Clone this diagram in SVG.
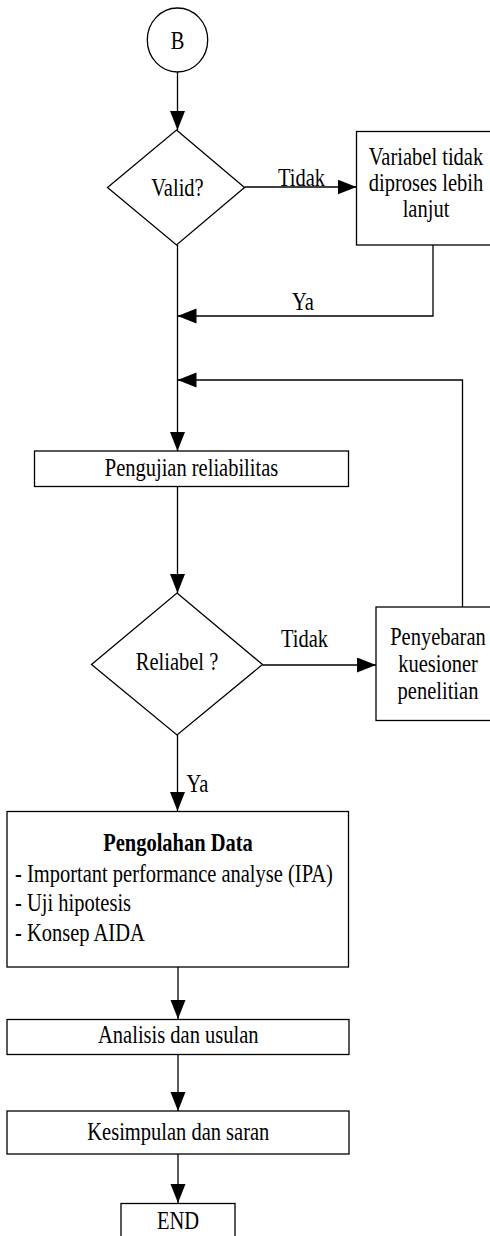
<svg xmlns="http://www.w3.org/2000/svg" width="490" height="1236" viewBox="0 0 490 1236">
<style>
.s{fill:#fff;stroke:#000;stroke-width:1.3}
.c{fill:none;stroke:#000;stroke-width:1.3}
text{font-family:"Liberation Serif","Times New Roman",serif;font-size:20.5px;fill:#000}
.m{text-anchor:middle}
.b{font-weight:bold}
</style>
<defs>
<marker id="ah" markerUnits="userSpaceOnUse" markerWidth="20" markerHeight="16" refX="19" refY="7.5" orient="auto">
<path d="M0,0 L19,7.5 L0,15 z" fill="#000"/>
</marker>
</defs>
<rect width="490" height="1236" fill="#fff"/>
<g id="connectors">
<line class="c" x1="177.5" y1="72" x2="177.5" y2="130" marker-end="url(#ah)"/>
<line class="c" x1="244.5" y1="187" x2="356.5" y2="187" marker-end="url(#ah)"/>
<polyline class="c" points="433,245 433,316 177.5,316" marker-end="url(#ah)"/>
<polyline class="c" points="462.5,607 462.5,380 177.5,380" marker-end="url(#ah)"/>
<line class="c" x1="177.5" y1="245" x2="177.5" y2="451" marker-end="url(#ah)"/>
<line class="c" x1="177.5" y1="487" x2="177.5" y2="593" marker-end="url(#ah)"/>
<line class="c" x1="262.5" y1="665" x2="376" y2="665" marker-end="url(#ah)"/>
<line class="c" x1="177.5" y1="735" x2="177.5" y2="811" marker-end="url(#ah)"/>
<line class="c" x1="178" y1="967" x2="178" y2="1019" marker-end="url(#ah)"/>
<line class="c" x1="178" y1="1054" x2="178" y2="1111" marker-end="url(#ah)"/>
<line class="c" x1="178" y1="1154" x2="178" y2="1203" marker-end="url(#ah)"/>
<text class="m" transform="translate(301.5,186) scale(1,1.2)">Tidak</text>
<text class="m" transform="translate(303,310) scale(1,1.2)">Ya</text>
<text class="m" transform="translate(304.5,646.5) scale(1,1.2)">Tidak</text>
<text transform="translate(186.5,791.5) scale(1,1.2)">Ya</text>
</g>
<g id="start">
<ellipse class="s" cx="177.5" cy="40" rx="30.2" ry="32"/>
<text class="m" transform="translate(177.5,48.5) scale(1,1.2)">B</text>
</g>
<g id="valid">
<polygon class="s" points="176.5,130 244.5,187.5 176.5,245 107.5,187.5"/>
<text class="m" transform="translate(177.5,196) scale(1,1.2)">Valid?</text>
</g>
<g id="variabel">
<rect class="s" x="356.5" y="131.5" width="140" height="113.5"/>
<text class="m" transform="translate(426,165) scale(1,1.2)">Variabel tidak</text>
<text class="m" transform="translate(426,191) scale(1,1.2)">diproses lebih</text>
<text class="m" transform="translate(426,217) scale(1,1.2)">lanjut</text>
</g>
<g id="pengujian">
<rect class="s" x="34.5" y="451" width="314" height="35.5"/>
<text class="m" transform="translate(191.5,475.5) scale(1,1.2)">Pengujian reliabilitas</text>
</g>
<g id="reliabel">
<polygon class="s" points="177,593 262.5,664.5 177,735 91.5,664.5"/>
<text class="m" transform="translate(177,670) scale(1,1.2)">Reliabel ?</text>
</g>
<g id="penyebaran">
<rect class="s" x="376" y="607" width="120" height="113.5"/>
<text class="m" transform="translate(438,645) scale(1,1.2)">Penyebaran</text>
<text class="m" transform="translate(438,672) scale(1,1.2)">kuesioner</text>
<text class="m" transform="translate(438,699) scale(1,1.2)">penelitian</text>
</g>
<g id="pengolahan">
<rect class="s" x="7" y="811.5" width="341.5" height="155.5"/>
<text class="m b" transform="translate(178,850.5) scale(1,1.2)">Pengolahan Data</text>
<text transform="translate(15,881.5) scale(1,1.2)">- Important performance analyse (IPA)</text>
<text transform="translate(15,910.5) scale(1,1.2)">- Uji hipotesis</text>
<text transform="translate(15,940.5) scale(1,1.2)">- Konsep AIDA</text>
</g>
<g id="analisis">
<rect class="s" x="7" y="1019.5" width="342" height="35"/>
<text class="m" transform="translate(178.3,1043) scale(1,1.2)">Analisis dan usulan</text>
</g>
<g id="kesimpulan">
<rect class="s" x="7" y="1111" width="342" height="43"/>
<text class="m" transform="translate(178.3,1139.5) scale(1,1.2)">Kesimpulan dan saran</text>
</g>
<g id="end">
<rect class="s" x="121" y="1203.5" width="114" height="40"/>
<text class="m" transform="translate(178,1228.5) scale(1,1.2)">END</text>
</g>
</svg>
